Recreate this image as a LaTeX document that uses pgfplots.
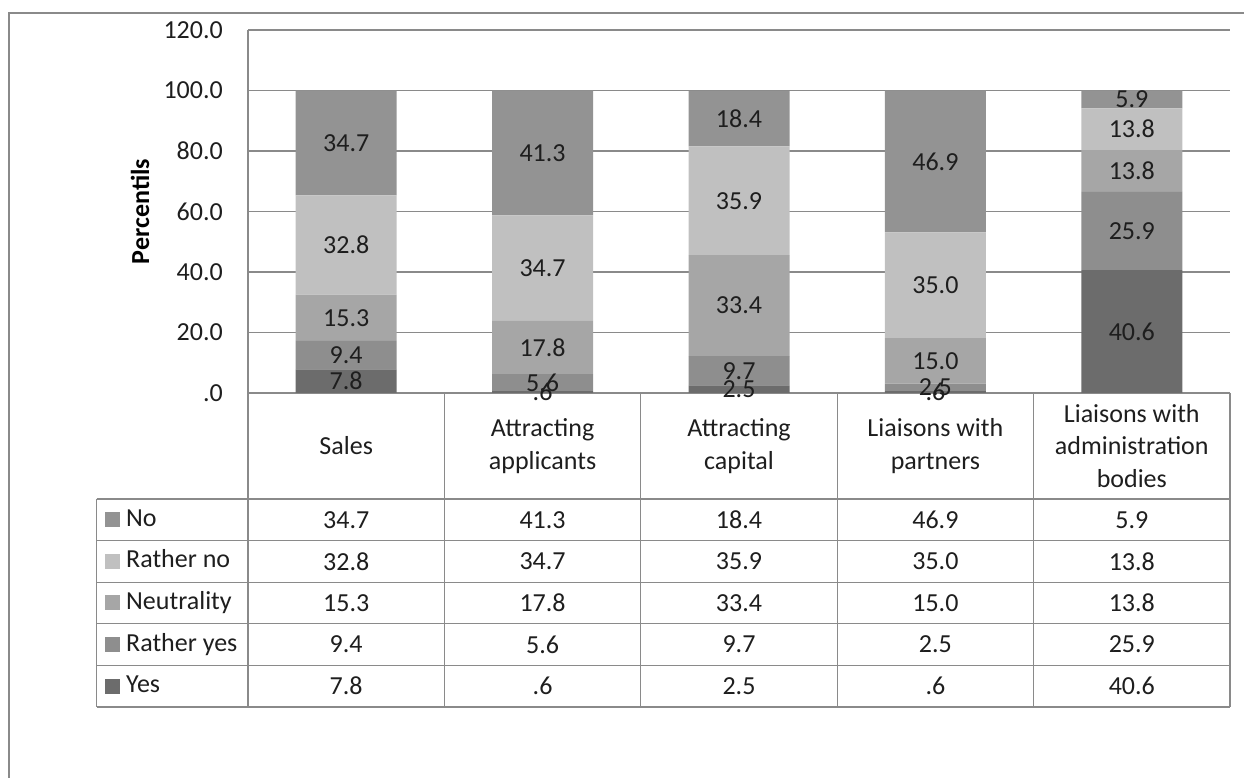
\documentclass[border=0pt]{standalone}
\usepackage{pgfplots}
\pgfplotsset{compat=1.18}
\usepackage{pgfplotstable}
\usepackage{fontspec}
\setmainfont{Carlito}
\definecolor{cNo}{HTML}{939393}
\definecolor{cRNo}{HTML}{C0C0C0}
\definecolor{cNeu}{HTML}{A6A6A6}
\definecolor{cRYes}{HTML}{8E8E8E}
\definecolor{cYes}{HTML}{6C6C6C}
\definecolor{gridgray}{HTML}{8A8A8A}
\definecolor{txt}{HTML}{1E1E1E}

\pgfplotstableread{
x Yes RatherYes Neutrality RatherNo No
0 7.8 9.4 15.3 32.8 34.7
1 0.6 5.6 17.8 34.7 41.3
2 2.5 9.7 33.4 35.9 18.4
3 0.6 2.5 15.0 35.0 46.9
4 40.6 25.9 13.8 13.8 5.9
}\data

\begin{document}
\begin{tikzpicture}[font=\fontsize{26}{32.5}\selectfont]
\begin{scope}[x=1pt,y=1pt]
\path[use as bounding box] (0,0) rectangle (1244,778);
\draw[gridgray, line width=1.2pt] (9,0) -- (9,765) -- (1244,765);
\end{scope}
\begin{axis}[
  at={(248pt,385pt)}, anchor=south west,
  scale only axis, width=982pt, height=363pt,
  ybar stacked, bar width=101pt,
  xmin=-0.5, xmax=4.5, ymin=0, ymax=120,
  ytick={0,20,...,120},
  yticklabels={.0,20.0,40.0,60.0,80.0,100.0,120.0},
  xtick=\empty,
  axis x line*=bottom, axis y line*=left,
  ymajorgrids,
  grid style={draw=gridgray, line width=1.2pt},
  axis line style={draw=gridgray, line width=1.2pt, -},
  major tick length=0pt,
  yticklabel style={font=\fontsize{26}{30}\selectfont, text=txt, inner sep=0pt, xshift=-25pt},
  ylabel={\bfseries Percentils},
  ylabel style={at={(axis description cs:-0.110,0.5)}, anchor=center, rotate=0, font=\fontsize{26}{30}\selectfont, text=black},
  nodes near coords,
  nodes near coords align=center,
  point meta=explicit,
  every node near coord/.append style={anchor=center,
     font=\fontsize{26}{30}\selectfont, text=txt,
     /pgf/number format/.cd, fixed, fixed zerofill, precision=1, skip 0., assume math mode=true},
  clip=false,
]
\addplot[fill=cYes, draw=none] table[x=x, y=Yes, meta=Yes] {\data};
\addplot[fill=cRYes, draw=none] table[x=x, y=RatherYes, meta=RatherYes] {\data};
\addplot[fill=cNeu, draw=none] table[x=x, y=Neutrality, meta=Neutrality] {\data};
\addplot[fill=cRNo, draw=none] table[x=x, y=RatherNo, meta=RatherNo] {\data};
\addplot[fill=cNo, draw=none] table[x=x, y=No, meta=No] {\data};
\end{axis}
\begin{scope}[x=1pt,y=1pt]
% data table grid
\begin{scope}[draw=gridgray, line width=1.2pt]
\draw (96.5,279) -- (1230,279);
\foreach \yy in {237.4,195.8,154.2,112.6,71} {\draw (96.5,\yy) -- (1230,\yy);}
\draw (96.5,279) -- (96.5,71);
\foreach \xx in {248,444.4,640.8,837.2,1033.6,1230} {\draw (\xx,385) -- (\xx,71);}
\end{scope}
% header labels
\foreach \i/\lab in {0/Sales,1/Attracting\\applicants,2/Attracting\\capital,3/Liaisons with\\partners,4/Liaisons with\\administration\\bodies}{
  \node[align=center, text=txt, font=\fontsize{26}{32.5}\selectfont] at (346.2+196.4*\i,332) {\lab};
}
% rows
\foreach \c/\name/\col/\yy in {No/No/cNo/258.2, RatherNo/Rather no/cRNo/216.6, Neutrality/Neutrality/cNeu/175, RatherYes/Rather yes/cRYes/133.4, Yes/Yes/cYes/91.8}{
  \fill[\col] (105,\yy-7.5) rectangle (120,\yy+7.5);
  \node[anchor=west, text=txt, inner sep=0pt] at (126,\yy) {\strut\name};
  \foreach \r in {0,...,4}{
    \pgfplotstablegetelem{\r}{\c}\of\data
    \edef\val{\pgfplotsretval}
    \node[text=txt] at (346.2+196.4*\r,\yy) {\pgfmathprintnumber[fixed,fixed zerofill,precision=1,skip 0.,assume math mode=true]{\val}};
  }
}
\end{scope}
\end{tikzpicture}
\end{document}
